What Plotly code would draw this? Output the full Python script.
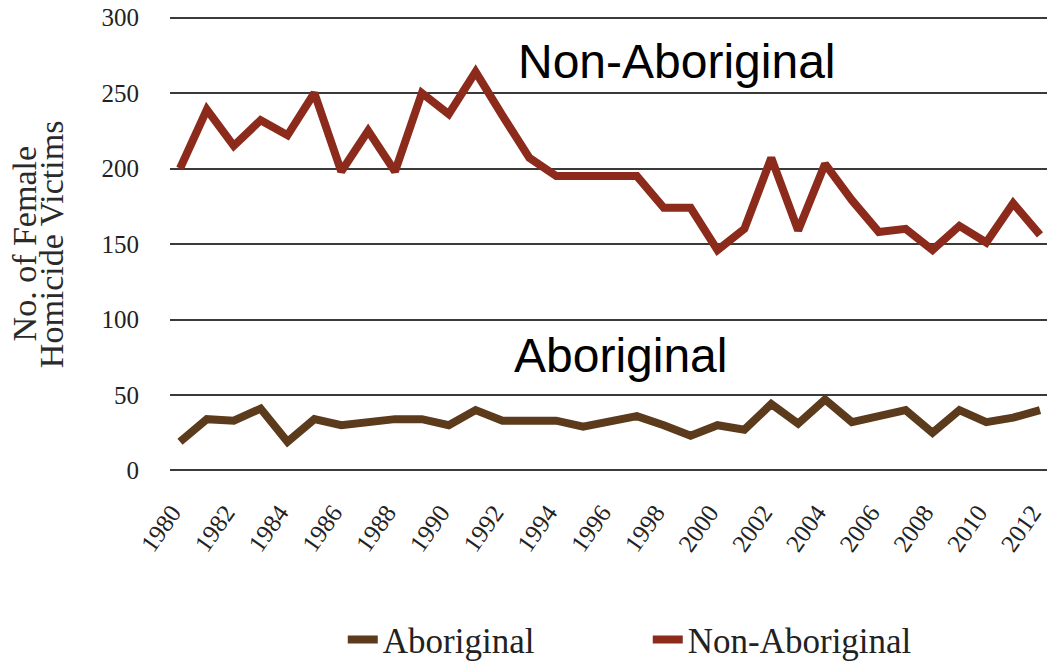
import plotly.graph_objects as go

years = list(range(1980, 2013))
non_aboriginal = [200, 239, 215, 232, 222, 250, 198, 225, 198, 250, 236, 264, 235, 207,
                  195, 195, 195, 195, 174, 174, 146, 160, 207, 159, 203, 179, 158, 160,
                  146, 162, 151, 177, 156]
aboriginal = [19, 34, 33, 41, 19, 34, 30, 32, 34, 34, 30, 40, 33, 33, 33, 29, 33, 36,
              30, 23, 30, 27, 44, 31, 47, 32, 36, 40, 25, 40, 32, 35, 40]
x_tickvals = list(range(1980, 2013, 2))
y_tickvals = [0, 50, 100, 150, 200, 250, 300]
y_title_lines = ["No. of Female", "Homicide Victims"]

serif = "Liberation Serif, Times New Roman, serif"
sans = "Liberation Sans, Arial, sans-serif"

fig = go.Figure()
fig.add_trace(go.Scatter(x=years, y=aboriginal, mode="lines", name="Aboriginal",
                         line=dict(color="#5b3b1c", width=8), cliponaxis=False))
fig.add_trace(go.Scatter(x=years, y=non_aboriginal, mode="lines", name="Non-Aboriginal",
                         line=dict(color="#8c2a1b", width=8), cliponaxis=False))

fig.add_annotation(x=1998.5, y=271, text="Non-Aboriginal", showarrow=False,
                   font=dict(family=sans, size=48, color="#000000"), xanchor="center", yanchor="middle")
fig.add_annotation(x=1996.4, y=76, text="Aboriginal", showarrow=False,
                   font=dict(family=sans, size=48, color="#000000"), xanchor="center", yanchor="middle")

# y-axis title as two rotated lines (tighter line spacing than axis title allows)
for xp, line in zip([-0.166, -0.1355], y_title_lines):
    fig.add_annotation(x=xp, y=0.5, xref="paper", yref="paper", text=line, textangle=-90,
                       showarrow=False, xanchor="center", yanchor="middle",
                       font=dict(family=serif, size=34, color="#2a2a2a"))

fig.update_layout(
    width=1047, height=669,
    margin=dict(l=170, r=0, t=16, b=197, autoexpand=False),
    plot_bgcolor="white", paper_bgcolor="white",
    showlegend=True,
    legend=dict(orientation="h", x=0.197, xanchor="left", y=-0.368, yanchor="middle",
                font=dict(family=serif, size=35, color="#222222"),
                entrywidth=260, entrywidthmode="pixels", tracegroupgap=0),
    xaxis=dict(range=[1979.628, 2012.26], tickmode="array", tickvals=x_tickvals,
               tickangle=-55, showgrid=False, zeroline=False, showline=False, automargin=False,
               ticklabeloverflow="allow", ticklabelshift=-8,
               tickfont=dict(family=serif, size=25, color="#222222"), ticklabelstandoff=20),
    yaxis=dict(range=[-1, 301], tickmode="array", tickvals=y_tickvals, automargin=False,
               ticklabeloverflow="allow",
               showgrid=True, gridcolor="#3a3a3a", gridwidth=2, zeroline=False, showline=False,
               tickfont=dict(family=serif, size=25, color="#222222"), ticklabelstandoff=30),
)

fig.write_html("out.html", config={"displayModeBar": False},
               post_script="document.body.style.margin='0';")
